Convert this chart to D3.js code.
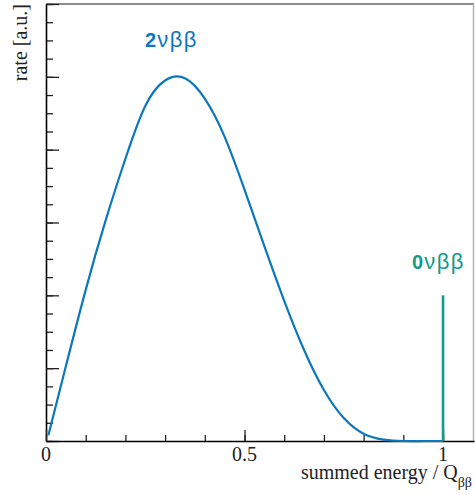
<!DOCTYPE html>
<html>
<head>
<meta charset="utf-8">
<script src="https://cdn.jsdelivr.net/npm/d3@7"></script>
<style>
  body { margin: 0; background: #fff; }
  svg { display: block; }
  .axis path { stroke: #000; stroke-width: 1.6; }
  .axis line { stroke: #222; stroke-width: 1.3; }
  .ticklabel, .axislabel { font-family: "Liberation Serif", "DejaVu Serif", serif; fill: #222; }
  .peak { font-family: "Liberation Sans", Arial, sans-serif; }
</style>
</head>
<body>
<svg id="chart" width="475" height="495"></svg>
<script>
// 2-neutrino spectrum, summed electron energy in units of Q
var energy = [0.006, 0.05, 0.10, 0.15, 0.20, 0.25, 0.30, 0.35, 0.40, 0.45, 0.50,
              0.55, 0.60, 0.65, 0.70, 0.75, 0.80, 0.85, 0.90, 0.95, 1.0];
var rate2nu = [0.016, 0.205, 0.415, 0.605, 0.775, 0.92, 0.99, 0.996, 0.94, 0.835, 0.69,
               0.535, 0.385, 0.25, 0.14, 0.063, 0.02, 0.004, 0.0, 0.0, 0.0];
// 0-neutrino line at the endpoint
var line0nu = [{ e: 1.0, r: 0.4 }];

var xLabels = [0, 0.5, 1];
var xMinorTicks = d3.range(0, 11).map(function (i) { return i / 10; });
var yMinorTicks = d3.range(0, 25).map(function (i) { return i * 0.05; });
var yMajorTicks = [0, 0.2, 0.4, 0.6, 0.8, 1.0, 1.2];

var blue = "#0b77bd",
    teal = "#139a88";

var margin = { left: 46, top: 4, right: 1, bottom: 54 },
    W = 475, H = 495,
    w = W - margin.left - margin.right,
    h = H - margin.top - margin.bottom;

var svg = d3.select("#chart");
var g = svg.append("g")
    .attr("transform", "translate(" + margin.left + "," + margin.top + ")");

var x = d3.scaleLinear().domain([0, 1.078]).range([0, w]);
var y = d3.scaleLinear().domain([0, 1.2]).range([h, 0]);

// frame: top and right edges
g.append("line").attr("x1", 0).attr("x2", w).attr("y1", 0).attr("y2", 0)
    .attr("stroke", "#666").attr("stroke-width", 1.5);
g.append("line").attr("x1", w - 0.5).attr("x2", w - 0.5).attr("y1", 0).attr("y2", h)
    .attr("stroke", "#b5b5b5").attr("stroke-width", 1.5);

// y axis: minor + major ticks pointing inward, no labels
g.append("g").attr("class", "axis")
    .call(d3.axisRight(y).tickValues(yMinorTicks).tickSize(7).tickFormat(""))
    .call(function (s) { s.select(".domain").remove(); });
g.append("g").attr("class", "axis")
    .call(d3.axisRight(y).tickValues(yMajorTicks).tickSize(13).tickSizeOuter(0).tickFormat(""));

// x axis ticks pointing up
g.append("g").attr("class", "axis")
    .attr("transform", "translate(0," + h + ")")
    .call(d3.axisTop(x).tickValues(xMinorTicks).tickSize(6).tickFormat(""))
    .call(function (s) { s.select(".domain").remove(); });
g.append("g").attr("class", "axis")
    .attr("transform", "translate(0," + h + ")")
    .call(d3.axisTop(x).tickValues(xLabels).tickSize(11).tickSizeOuter(0).tickFormat(""));

g.selectAll(".ticklabel")
    .data(xLabels)
  .enter().append("text")
    .attr("class", "ticklabel")
    .attr("x", function (d) { return x(d); })
    .attr("y", h + 20)
    .attr("text-anchor", "middle")
    .style("font-size", "20px")
    .text(function (d) { return d; });

// axis titles
var xt = g.append("text")
    .attr("class", "axislabel")
    .attr("x", w - 2)
    .attr("y", h + 38)
    .attr("text-anchor", "end")
    .style("font-size", "20px");
xt.append("tspan").text("summed energy / Q");
xt.append("tspan").attr("dy", 8).style("font-size", "14px").text("ββ");

g.append("text")
    .attr("class", "axislabel")
    .attr("transform", "translate(" + (-19) + ",0) rotate(-90)")
    .attr("text-anchor", "end")
    .style("font-size", "20px")
    .text("rate [a.u.]");

// 2vbb continuum
var pts = energy.map(function (e, i) { return [e, rate2nu[i]]; });
g.append("path")
    .datum(pts)
    .attr("fill", "none")
    .attr("stroke", blue)
    .attr("stroke-width", 2.2)
    .attr("d", d3.line()
        .x(function (d) { return x(d[0]); })
        .y(function (d) { return y(d[1]); })
        .curve(d3.curveNatural));

// 0vbb peak
g.selectAll(".peakline")
    .data(line0nu)
  .enter().append("line")
    .attr("class", "peakline")
    .attr("x1", function (d) { return x(d.e); })
    .attr("x2", function (d) { return x(d.e); })
    .attr("y1", y(0))
    .attr("y2", function (d) { return y(d.r); })
    .attr("stroke", teal)
    .attr("stroke-width", 2.6);

function peakLabel(num, color, cx, cy) {
  var t = g.append("text")
      .attr("class", "peak")
      .attr("x", cx).attr("y", cy)
      .attr("fill", color)
      .style("font-size", "20px");
  t.append("tspan").style("font-weight", "bold").text(num);
  t.append("tspan").attr("dx", 1)
      .style("font-size", "22px")
      .style("letter-spacing", "1.5px").text("νββ");
}
peakLabel("2", blue, 99, 43);
peakLabel("0", teal, 366, 265);
</script>
</body>
</html>
